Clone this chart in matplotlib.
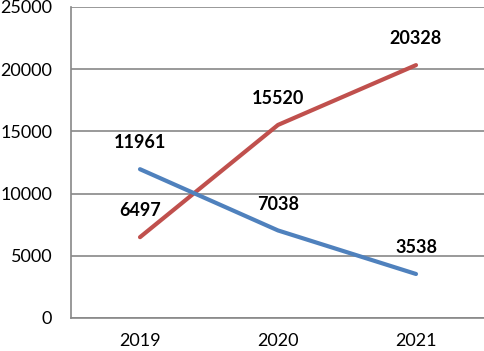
import matplotlib
matplotlib.use('Agg')
from matplotlib import pyplot as plt

years = ['2019', '2020', '2021']
red_vals = [6497, 15520, 20328]
blue_vals = [11961, 7038, 3538]
y_ticks = [0, 5000, 10000, 15000, 20000, 25000]

plt.rcParams['font.family'] = ['Lato', 'DejaVu Sans']

fig = plt.figure(figsize=(4.85, 3.51), dpi=100)
ax = fig.add_axes([71 / 485, 33 / 351, 414 / 485, 311 / 351])

x = range(len(years))
ax.plot(x, red_vals, color='#C0504D', linewidth=3, solid_capstyle='round', zorder=3)
ax.plot(x, blue_vals, color='#4F81BD', linewidth=3, solid_capstyle='round', zorder=3)

# value labels above each point
for vals in (red_vals, blue_vals):
    for i, v in enumerate(vals):
        ax.annotate(str(v), (i, v), xytext=(0, 19), textcoords='offset points',
                    ha='center', va='center', fontsize=13, fontweight='bold')

ax.set_xlim(-0.5, 2.5)
ax.set_ylim(0, 25000)
ax.set_xticks(list(x))
ax.set_xticklabels(years)
ax.set_yticks(y_ticks)
ax.set_yticklabels([str(t) for t in y_ticks])
ax.tick_params(length=0, labelsize=13, colors='black')
ax.tick_params(axis='y', pad=13.5)
ax.tick_params(axis='x', pad=11)
ax.grid(axis='y', color='#888888', linewidth=1.2)
ax.set_axisbelow(True)
for s in ['top', 'right']:
    ax.spines[s].set_visible(False)
for s in ['left', 'bottom']:
    ax.spines[s].set_color('#888888')
    ax.spines[s].set_linewidth(1.2)

fig.savefig('out.png', dpi=100)
